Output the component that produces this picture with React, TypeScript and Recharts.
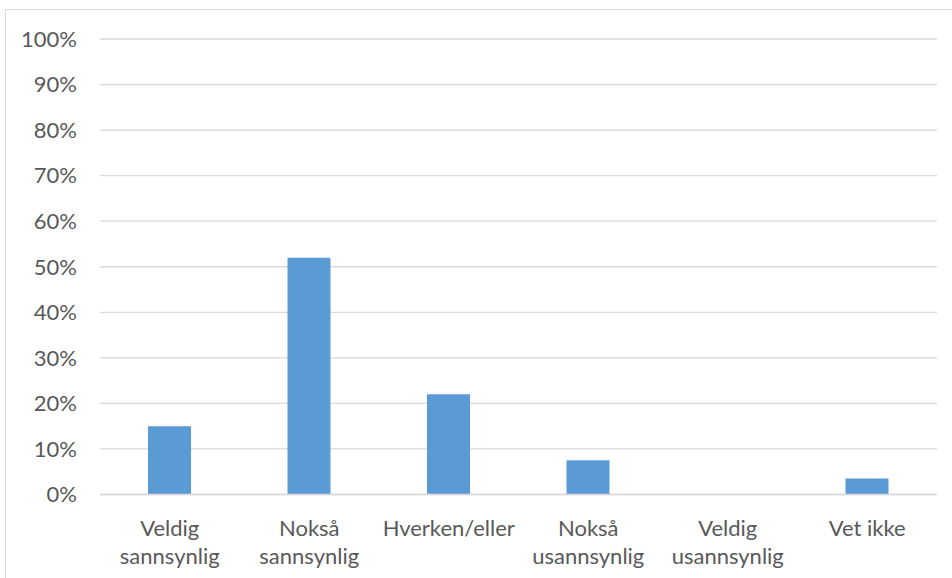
import { Bar, BarChart, CartesianGrid, XAxis, YAxis } from "recharts";

// survey answers, two-line labels where the category wraps
const categories = [
  ["Veldig", "sannsynlig"],
  ["Nokså", "sannsynlig"],
  ["Hverken/eller"],
  ["Nokså", "usannsynlig"],
  ["Veldig", "usannsynlig"],
  ["Vet ikke"],
];
const shares = [15, 52, 22, 7.5, 0, 3.5];
const yTicks = [0, 10, 20, 30, 40, 50, 60, 70, 80, 90, 100];

const data = categories.map((lines, i) => ({
  name: lines.join(" "),
  lines,
  value: shares[i],
}));

const FONT = "Lato, 'Open Sans', sans-serif";
const TEXT = "#595959";
const GRID = "#d9d9d9";

function CategoryTick({ x, y, payload, index }: any) {
  const lines = categories[index] ?? [payload.value];
  return (
    <text x={x} y={y} textAnchor="middle" fill={TEXT} fontSize={22} fontFamily={FONT}>
      {lines.map((line, i) => (
        <tspan key={i} x={x} dy={i === 0 ? 39 : 28}>
          {line}
        </tspan>
      ))}
    </text>
  );
}

export default function App() {
  return (
    <div style={{ position: "absolute", left: 0, top: 0, width: 952, height: 578, background: "#fff" }}>
      <div
        style={{
          position: "absolute",
          left: 5,
          top: 9,
          right: 0,
          bottom: 0,
          borderTop: "1.5px solid #d9d9d9",
          borderLeft: "1.5px solid #d9d9d9",
        }}
      />
      <BarChart
        width={952}
        height={578}
        data={data}
        margin={{ top: 39, right: 15, left: 0, bottom: 0 }}
        barSize={43}
      >
        <CartesianGrid vertical={false} stroke={GRID} strokeWidth={1.3} />
        <XAxis
          dataKey="name"
          height={83.5}
          axisLine={{ stroke: GRID, strokeWidth: 1.3 }}
          tickLine={false}
          tickSize={0}
          interval={0}
          tick={<CategoryTick />}
        />
        <YAxis
          width={100}
          domain={[0, 100]}
          ticks={yTicks}
          axisLine={false}
          tickLine={false}
          tickSize={0}
          tickMargin={23}
          tickFormatter={(v) => `${v}%`}
          tick={{ fill: TEXT, fontSize: 22, fontFamily: FONT }}
        />
        <Bar dataKey="value" fill="#5b9bd5" isAnimationActive={false} />
      </BarChart>
    </div>
  );
}
